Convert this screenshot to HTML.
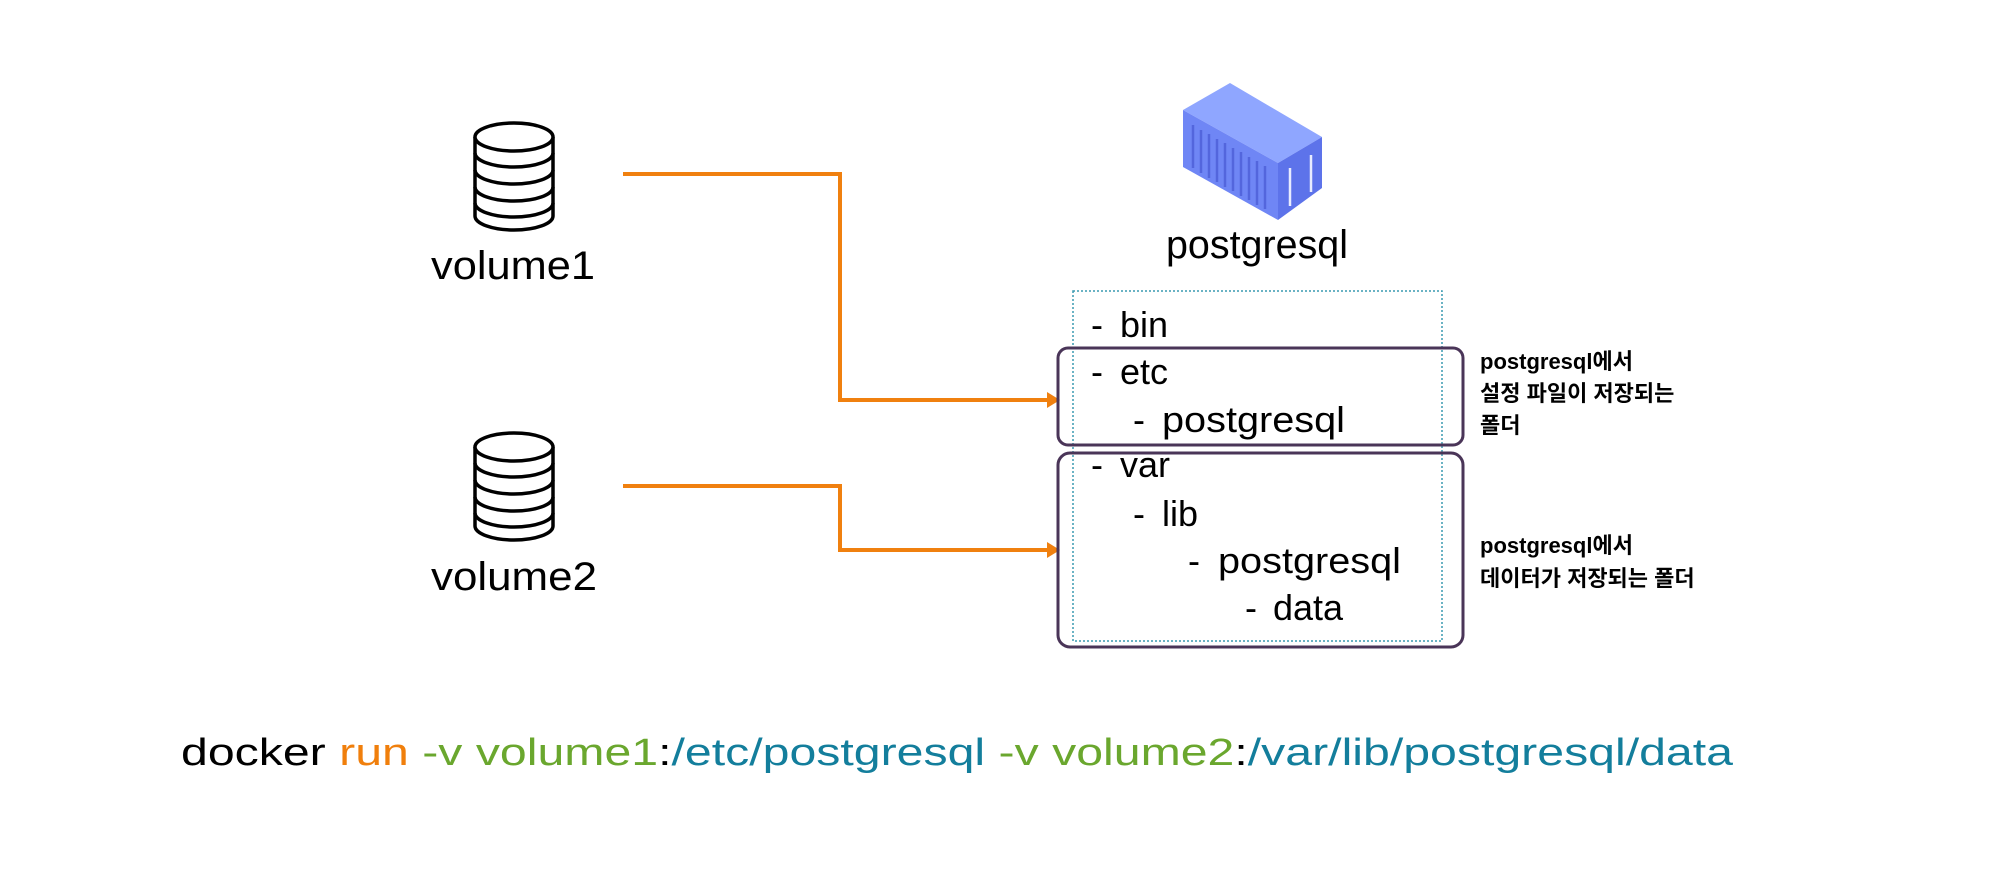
<!DOCTYPE html>
<html><head><meta charset="utf-8"><style>
html,body{margin:0;padding:0;background:#fff;}
svg{display:block;}
text{font-family:"Liberation Sans","Noto Sans CJK KR",sans-serif;}
</style></head><body>
<svg width="2000" height="876" viewBox="0 0 2000 876" xmlns="http://www.w3.org/2000/svg">
<defs>
<g id="db" fill="none" stroke="#000" stroke-width="3.5">
<path d="M-39,0 V79 A39,14 0 0 0 39,79 V0"/>
<ellipse cx="0" cy="0" rx="39" ry="14" fill="#fff"/>
<path d="M-39,16 A39,14 0 0 0 39,16"/>
<path d="M-39,33 A39,14 0 0 0 39,33"/>
<path d="M-39,50 A39,14 0 0 0 39,50"/>
<path d="M-39,66 A39,14 0 0 0 39,66"/>
</g>
</defs>
<use href="#db" x="514" y="137"/>
<use href="#db" x="514" y="447"/>
<text x="431" y="279" font-size="40" textLength="164" lengthAdjust="spacingAndGlyphs">volume1</text>
<text x="431" y="590" font-size="40" textLength="166" lengthAdjust="spacingAndGlyphs">volume2</text>

<g fill="none" stroke="#f0800f" stroke-width="4">
<polyline points="623,174 840,174 840,400 1048,400"/>
<polyline points="623,486 840,486 840,550 1048,550"/>
</g>
<polygon points="1047,392 1060,400 1047,408" fill="#f0800f"/>
<polygon points="1047,542 1060,550 1047,558" fill="#f0800f"/>

<!-- container -->
<polygon points="1230,83 1322,137 1278,163 1183,110" fill="#8fa6ff"/>
<polygon points="1183,110 1278,163 1278,220 1183,167" fill="#6f86f5"/>
<polygon points="1278,163 1322,137 1322,188 1278,220" fill="#5d73ea"/>
<g stroke="#5366dd" stroke-width="2.5">
<line x1="1193" y1="125" x2="1193" y2="168"/><line x1="1201" y1="130" x2="1201" y2="173"/>
<line x1="1209" y1="134" x2="1209" y2="178"/><line x1="1217" y1="139" x2="1217" y2="182"/>
<line x1="1225" y1="143" x2="1225" y2="187"/><line x1="1233" y1="148" x2="1233" y2="191"/>
<line x1="1241" y1="152" x2="1241" y2="196"/><line x1="1249" y1="157" x2="1249" y2="200"/>
<line x1="1257" y1="161" x2="1257" y2="205"/><line x1="1265" y1="166" x2="1265" y2="209"/>
</g>
<g stroke="#e8ecff" stroke-width="2.5">
<line x1="1290" y1="168" x2="1290" y2="206"/><line x1="1311" y1="155" x2="1311" y2="192"/>
</g>
<text x="1166" y="258" font-size="40" textLength="182" lengthAdjust="spacingAndGlyphs">postgresql</text>

<rect x="1073" y="291" width="369" height="350" fill="none" stroke="#3a9ab0" stroke-width="1.5" stroke-dasharray="2,2"/>
<rect x="1058" y="348" width="405" height="97" rx="10" fill="none" stroke="#4a3558" stroke-width="3"/>
<rect x="1058" y="453" width="405" height="194" rx="12" fill="none" stroke="#4a3558" stroke-width="3"/>

<g font-size="36">
<text x="1091" y="337">- <tspan x="1120">bin</tspan></text>
<text x="1091" y="384">- <tspan x="1120">etc</tspan></text>
<text x="1133" y="432">- <tspan x="1162" textLength="183" lengthAdjust="spacingAndGlyphs">postgresql</tspan></text>
<text x="1091" y="477">- <tspan x="1120">var</tspan></text>
<text x="1133" y="526">- <tspan x="1162">lib</tspan></text>
<text x="1188" y="573">- <tspan x="1218" textLength="183" lengthAdjust="spacingAndGlyphs">postgresql</tspan></text>
<text x="1245" y="620">- <tspan x="1273">data</tspan></text>
</g>

<g font-size="22" font-weight="bold">
<text x="1480" y="369">postgresql에서</text>
<text x="1480" y="401">설정 파일이 저장되는</text>
<text x="1480" y="433">폴더</text>
<text x="1480" y="553">postgresql에서</text>
<text x="1480" y="586">데이터가 저장되는 폴더</text>
</g>

<text x="181" y="765" font-size="38" textLength="1552" lengthAdjust="spacingAndGlyphs"><tspan fill="#000">docker </tspan><tspan fill="#f07f0c">run </tspan><tspan fill="#6aa72e">-v volume1</tspan><tspan fill="#000">:</tspan><tspan fill="#137e9c">/etc/postgresql </tspan><tspan fill="#6aa72e">-v volume2</tspan><tspan fill="#000">:</tspan><tspan fill="#137e9c">/var/lib/postgresql/data</tspan></text>
</svg>
</body></html>
